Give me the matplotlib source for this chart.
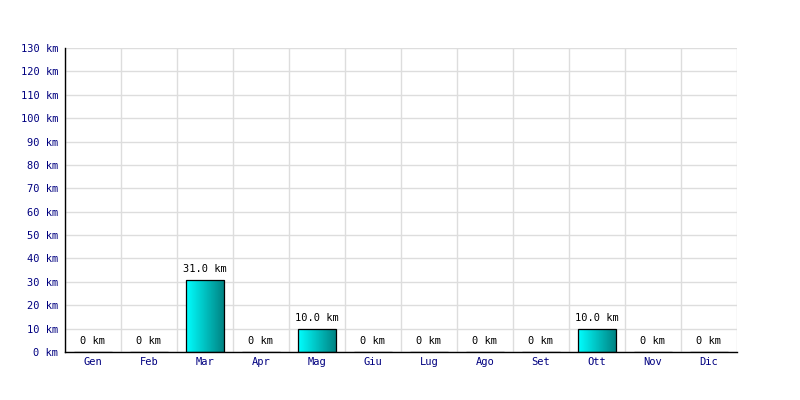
import numpy as np
import matplotlib.pyplot as plt

months = ['Gen', 'Feb', 'Mar', 'Apr', 'Mag', 'Giu', 'Lug', 'Ago', 'Set', 'Ott', 'Nov', 'Dic']
km = [0, 0, 31.0, 0, 10.0, 0, 0, 0, 0, 10.0, 0, 0]
y_ticks = list(range(0, 140, 10))

plt.rcParams['font.family'] = 'DejaVu Sans Mono'

fig = plt.figure(figsize=(8, 4), dpi=100)
ax = fig.add_axes([65 / 800, 48 / 400, 672 / 800, 304 / 400])

x = np.arange(len(months))
bars = ax.bar(x, km, width=0.68, color='none', edgecolor='black', linewidth=0.9, zorder=3)

# horizontal gradient cyan -> teal inside each bar
grad = np.linspace(0, 1, 256).reshape(1, -1)
cmap = plt.matplotlib.colors.LinearSegmentedColormap.from_list('cy', ['#00ffff', '#008080'])
for b, v in zip(bars, km):
    if v <= 0:
        continue
    x0, w = b.get_x(), b.get_width()
    im = ax.imshow(grad, extent=[x0, x0 + w, 0, v], aspect='auto', cmap=cmap, zorder=2)
    im.set_clip_path(b)

for xi, v in zip(x, km):
    label = f'{v:.1f} km' if v > 0 else '0 km'
    ax.annotate(label, (xi, v), xytext=(0, 4), textcoords='offset points',
                ha='center', va='bottom', fontsize=7.5, color='black', zorder=4)

ax.set_xlim(-0.5, len(months) - 0.5)
ax.set_ylim(0, 130)
ax.set_xticks(x)
ax.set_xticklabels(months)
ax.set_yticks(y_ticks)
ax.set_yticklabels([f'{t} km' for t in y_ticks])
ax.set_xticks(np.arange(-0.5, len(months), 1), minor=True)
ax.tick_params(axis='both', which='both', length=0, labelsize=7.5, labelcolor='#000080')
ax.tick_params(axis='y', pad=5)
ax.tick_params(axis='x', pad=3.5)

ax.grid(True, which='minor', axis='x', color='#dddddd', linewidth=1, zorder=0)
ax.grid(True, which='major', axis='y', color='#dddddd', linewidth=1, zorder=0)
ax.set_axisbelow(True)

for s in ['top', 'right']:
    ax.spines[s].set_visible(False)
for s in ['left', 'bottom']:
    ax.spines[s].set_linewidth(1.0)
    ax.spines[s].set_color('black')

fig.savefig('out.png', dpi=100)
